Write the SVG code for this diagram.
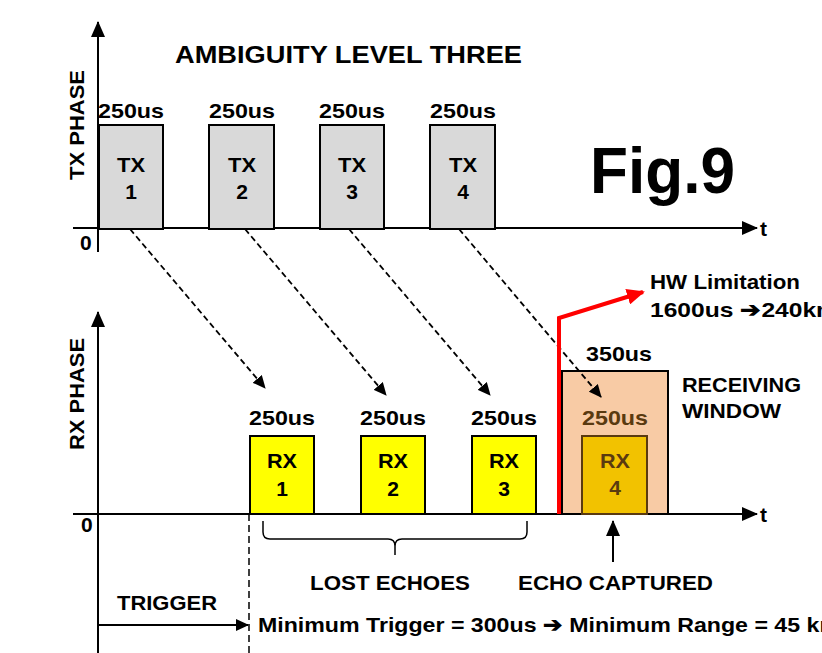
<svg xmlns="http://www.w3.org/2000/svg" width="822" height="653" viewBox="0 0 822 653">
<style>
text{font-family:"Liberation Sans",Arial,sans-serif;font-weight:bold;fill:#000}
.lbl{font-size:21px}
.box{font-size:21px;text-anchor:middle}
.ax{stroke:#000;stroke-width:2;fill:none}
.tx{fill:#d9d9d9;stroke:#000;stroke-width:2}
.rx{fill:#ffff00;stroke:#000;stroke-width:2}
.dash{stroke:#000;stroke-width:1.8;stroke-dasharray:6,3.5;fill:none}
.br{fill:#5a3a10}
</style>
<defs>
<marker id="ah" markerWidth="13" markerHeight="12" refX="12" refY="6" orient="auto" markerUnits="userSpaceOnUse"><path d="M0,0 L13,6 L0,12 z" fill="#000"/></marker>
<marker id="ahb" markerWidth="16" markerHeight="14" refX="15" refY="7" orient="auto" markerUnits="userSpaceOnUse"><path d="M0,0 L16,7 L0,14 z" fill="#000"/></marker>
<marker id="ahr" markerWidth="18" markerHeight="16" refX="16" refY="8" orient="auto" markerUnits="userSpaceOnUse"><path d="M0,0 L18,8 L0,16 z" fill="#ff0000"/></marker>
</defs>
<rect width="822" height="653" fill="#fff"/>

<g id="axes">
<line class="ax" x1="98" y1="252" x2="98" y2="22" marker-end="url(#ahb)"/>
<line class="ax" x1="73" y1="228" x2="757" y2="228" marker-end="url(#ahb)"/>
<line class="ax" x1="98" y1="653" x2="98" y2="312" marker-end="url(#ahb)"/>
<line class="ax" x1="73" y1="514" x2="757" y2="514" marker-end="url(#ahb)"/>
<text x="760" y="236" class="lbl">t</text>
<text x="760" y="522" class="lbl">t</text>
<text x="80" y="250" class="lbl">0</text>
<text x="81" y="532" class="lbl">0</text>
<text transform="translate(84,125) rotate(-90)" class="lbl" text-anchor="middle" textLength="110" lengthAdjust="spacingAndGlyphs">TX PHASE</text>
<text transform="translate(84,394) rotate(-90)" class="lbl" text-anchor="middle" textLength="112" lengthAdjust="spacingAndGlyphs">RX PHASE</text>
</g>

<text x="175" y="63" font-size="23" textLength="347" lengthAdjust="spacingAndGlyphs">AMBIGUITY LEVEL THREE</text>
<text x="590" y="193" font-size="64" textLength="145" lengthAdjust="spacingAndGlyphs">Fig.9</text>

<g id="tx1"><rect class="tx" x="99" y="125" width="64" height="104"/><text x="131" y="118" class="lbl" text-anchor="middle" textLength="66" lengthAdjust="spacingAndGlyphs">250us</text><text x="131" y="172" class="box" textLength="28" lengthAdjust="spacingAndGlyphs">TX</text><text x="131" y="199" class="box">1</text></g>
<g id="tx2"><rect class="tx" x="209" y="125" width="65" height="104"/><text x="242" y="118" class="lbl" text-anchor="middle" textLength="66" lengthAdjust="spacingAndGlyphs">250us</text><text x="242" y="172" class="box" textLength="28" lengthAdjust="spacingAndGlyphs">TX</text><text x="242" y="199" class="box">2</text></g>
<g id="tx3"><rect class="tx" x="320" y="125" width="64" height="104"/><text x="352" y="118" class="lbl" text-anchor="middle" textLength="66" lengthAdjust="spacingAndGlyphs">250us</text><text x="352" y="172" class="box" textLength="28" lengthAdjust="spacingAndGlyphs">TX</text><text x="352" y="199" class="box">3</text></g>
<g id="tx4"><rect class="tx" x="430" y="125" width="65" height="104"/><text x="463" y="118" class="lbl" text-anchor="middle" textLength="66" lengthAdjust="spacingAndGlyphs">250us</text><text x="463" y="172" class="box" textLength="28" lengthAdjust="spacingAndGlyphs">TX</text><text x="463" y="199" class="box">4</text></g>

<g id="window"><rect x="562" y="371" width="106" height="143" fill="#f8cba5" stroke="#000" stroke-width="2"/><text x="619" y="361" class="lbl" text-anchor="middle" textLength="66" lengthAdjust="spacingAndGlyphs">350us</text><text x="682" y="392" class="lbl" textLength="119" lengthAdjust="spacingAndGlyphs">RECEIVING</text><text x="682" y="418" class="lbl" textLength="99" lengthAdjust="spacingAndGlyphs">WINDOW</text></g>

<g id="rx1"><rect class="rx" x="250" y="436" width="64" height="78"/><text x="282" y="425" class="lbl" text-anchor="middle" textLength="66" lengthAdjust="spacingAndGlyphs">250us</text><text x="282" y="468" class="box" textLength="30" lengthAdjust="spacingAndGlyphs">RX</text><text x="282" y="496" class="box">1</text></g>
<g id="rx2"><rect class="rx" x="361" y="436" width="64" height="78"/><text x="393" y="425" class="lbl" text-anchor="middle" textLength="66" lengthAdjust="spacingAndGlyphs">250us</text><text x="393" y="468" class="box" textLength="30" lengthAdjust="spacingAndGlyphs">RX</text><text x="393" y="496" class="box">2</text></g>
<g id="rx3"><rect class="rx" x="472" y="436" width="64" height="78"/><text x="504" y="425" class="lbl" text-anchor="middle" textLength="66" lengthAdjust="spacingAndGlyphs">250us</text><text x="504" y="468" class="box" textLength="30" lengthAdjust="spacingAndGlyphs">RX</text><text x="504" y="496" class="box">3</text></g>
<g id="rx4"><rect x="582" y="436" width="65" height="78" fill="#f2c200" stroke="#5a3a10" stroke-width="2"/><text x="615" y="425" class="lbl br" text-anchor="middle" textLength="66" lengthAdjust="spacingAndGlyphs">250us</text><text x="615" y="468" class="box br" textLength="30" lengthAdjust="spacingAndGlyphs">RX</text><text x="615" y="495" class="box br">4</text></g>

<g id="connectors">
<line class="dash" x1="130" y1="229" x2="265" y2="388" marker-end="url(#ah)"/>
<line class="dash" x1="245" y1="229" x2="386" y2="395" marker-end="url(#ah)"/>
<line class="dash" x1="349" y1="229" x2="490" y2="395" marker-end="url(#ah)"/>
<line class="dash" x1="459" y1="229" x2="601" y2="397" marker-end="url(#ah)"/>
<polyline points="559,514 559,318 643,292" fill="none" stroke="#ff0000" stroke-width="4" marker-end="url(#ahr)"/>
<line x1="613" y1="562" x2="613" y2="521" stroke="#000" stroke-width="2" marker-end="url(#ahb)"/>
<path d="M263,521 V532 Q263,539 270,539 H388 Q395,539 395,546 V555 M395,546 Q395,539 402,539 H520 Q527,539 527,532 V521" fill="none" stroke="#000" stroke-width="1.5"/>
<line x1="249" y1="514" x2="249" y2="653" stroke="#000" stroke-width="1.5" stroke-dasharray="7,4"/>
<line x1="98" y1="625" x2="248" y2="625" stroke="#000" stroke-width="2" marker-end="url(#ah)"/>
</g>

<text x="650" y="289" class="lbl" textLength="150" lengthAdjust="spacingAndGlyphs">HW Limitation</text>
<text x="650" y="317" class="lbl" textLength="188" lengthAdjust="spacingAndGlyphs">1600us ➔240km</text>
<text x="310" y="590" class="lbl" textLength="160" lengthAdjust="spacingAndGlyphs">LOST ECHOES</text>
<text x="518" y="590" class="lbl" textLength="195" lengthAdjust="spacingAndGlyphs">ECHO CAPTURED</text>
<text x="117" y="610" class="lbl" textLength="100" lengthAdjust="spacingAndGlyphs">TRIGGER</text>
<text x="258" y="632" class="lbl" textLength="582" lengthAdjust="spacingAndGlyphs">Minimum Trigger = 300us ➔ Minimum Range = 45 km</text>
</svg>
